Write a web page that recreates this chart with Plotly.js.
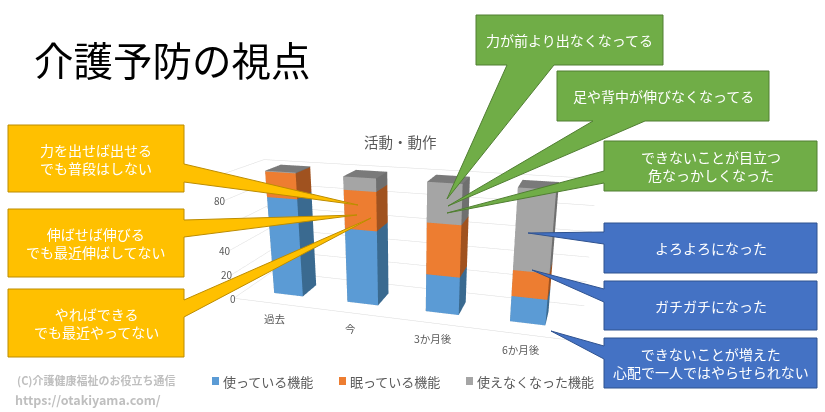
<!DOCTYPE html>
<html>
<head>
<meta charset="utf-8">
<script src="https://cdn.plot.ly/plotly-3.0.1.min.js"></script>
<style>
html,body{margin:0;padding:0;background:#fff;overflow:hidden}
#chart{width:825px;height:530px}
/* フキダシを棒の上に出すため */
.gl-container{z-index:1}
.main-svg{z-index:2}
</style>
</head>
<body>
<div id="chart"></div>
<script>
// === データ ===
const periods = ["過去", "今", "3か月後", "6か月後"];
const seriesNames = ["使っている機能", "眠っている機能", "使えなくなった機能"];
const used = [80, 60, 30, 20];
const dormant = [20, 30, 40, 20];
const lost = [0, 10, 30, 60];
const valueTicks = [0, 20, 40, 80];

// 画面は825x412だが、3Dを大きく出すため縦長に描いて下を切る
const W = 825, H = 530;
const FONT = '"Noto Sans CJK JP", "Noto Sans", sans-serif';

// 面の色: 正面, 側面, 上面
const faces = [
  {front: "#5B9BD5", side: "#3A6A90", top: "#5B9BD5"},
  {front: "#ED7D31", side: "#A0521F", top: "#ED7D31"},
  {front: "#A5A5A5", side: "#6F6F6F", top: "#7A7A7A"}
];

// 棒1本ぶんの箱を頂点と三角形にする
function addBox(m, xc, z0, z1, c) {
  const hw = 0.2, hd = 0.2, n = m.x.length;
  [[-1,-1,z0],[1,-1,z0],[1,1,z0],[-1,1,z0],[-1,-1,z1],[1,-1,z1],[1,1,z1],[-1,1,z1]].forEach(p => {
    m.x.push(xc + p[0]*hw); m.y.push(p[1]*hd); m.z.push(p[2]);
  });
  const tris = [
    [0,1,5,c.front],[0,5,4,c.front],
    [1,2,6,c.side],[1,6,5,c.side],
    [4,5,6,c.top],[4,6,7,c.top],
    [3,0,4,c.side],[3,4,7,c.side],
    [2,3,7,c.side],[2,7,6,c.side],
    [0,1,2,c.side],[0,2,3,c.side]
  ];
  tris.forEach(t => {
    m.i.push(n+t[0]); m.j.push(n+t[1]); m.k.push(n+t[2]); m.facecolor.push(t[3]);
  });
}

const traces = [used, dormant, lost].map((vals, s) => {
  const m = {type:"mesh3d", name:seriesNames[s], x:[], y:[], z:[], i:[], j:[], k:[], facecolor:[],
    flatshading:true, showscale:false, hoverinfo:"skip",
    lighting:{ambient:1, diffuse:0, specular:0, roughness:1, fresnel:0}};
  vals.forEach((v, p) => {
    const base = s === 0 ? 0 : s === 1 ? used[p] : used[p] + dormant[p];
    addBox(m, p, base, base + Math.max(v, 0.6), faces[s]);
  });
  return m;
});

// === フキダシ ===
const callouts = [
  {text:"力を出せば出せる<br>でも普段はしない", fill:"#FFC000", line:"#BC8C00", r:[8,125,184,192], w:[[184,164],[358,205],[184,182]]},
  {text:"伸ばせば伸びる<br>でも最近伸ばしてない", fill:"#FFC000", line:"#BC8C00", r:[8,209,184,277], w:[[184,220],[357,215],[184,237]]},
  {text:"やればできる<br>でも最近やってない", fill:"#FFC000", line:"#BC8C00", r:[8,289,184,357], w:[[184,300],[371,218],[184,317]]},
  {text:"力が前より出なくなってる", fill:"#70AD47", line:"#507E32", r:[476,15,663,65], w:[[507,65],[447,199],[554,65]]},
  {text:"足や背中が伸びなくなってる", fill:"#70AD47", line:"#507E32", r:[557,71,769,121], w:[[593,121],[448,206],[645,121]]},
  {text:"できないことが目立つ<br>危なっかしくなった", fill:"#70AD47", line:"#507E32", r:[604,141,817,191], w:[[604,171],[447,213],[604,183]]},
  {text:"よろよろになった", fill:"#4472C4", line:"#2F528F", r:[604,223,817,273], w:[[604,232],[528,233],[604,244]]},
  {text:"ガチガチになった", fill:"#4472C4", line:"#2F528F", r:[604,281,817,330], w:[[604,289],[532,270],[604,302]]},
  {text:"できないことが増えた<br>心配で一人ではやらせられない", fill:"#4472C4", line:"#2F528F", r:[604,338,817,388], w:[[604,346],[551,331],[604,359]]}
];

const px = x => x / W;
const py = y => 1 - y / H;

// 四角とくちばしを一つの輪郭にする
function outline(c) {
  const [l, t, r, b] = c.r, w = c.w;
  let pts;
  if (w[0][1] === b) pts = [[l,t],[r,t],[r,b],w[2],w[1],w[0],[l,b]];
  else if (w[0][0] === r) pts = [[l,t],[r,t],w[0],w[1],w[2],[r,b],[l,b]];
  else pts = [[l,t],[r,t],[r,b],[l,b],w[2],w[1],w[0]];
  return "M" + pts.map(p => `${px(p[0])},${py(p[1])}`).join("L") + "Z";
}

const shapes = [];
const annotations = [];
callouts.forEach(c => {
  shapes.push({type:"path", xref:"paper", yref:"paper", layer:"above", fillcolor:c.fill, line:{color:c.line, width:1}, path:outline(c)});
  annotations.push({text:c.text, xref:"paper", yref:"paper", showarrow:false, align:"center",
    x:px((c.r[0]+c.r[2])/2), y:py((c.r[1]+c.r[3])/2), xanchor:"center", yanchor:"middle",
    font:{family:FONT, size:14, color:"#fff"}});
});

function label(text, x, y, size, color, anchor, weight) {
  annotations.push({text:text, xref:"paper", yref:"paper", showarrow:false, x:px(x), y:py(y),
    xanchor:anchor || "left", yanchor:"middle", font:{family:FONT, size:size, color:color, weight:weight || 400}});
}
label("介護予防の視点", 32, 59, 39.5, "#000");
label("活動・動作", 400, 141, 14.5, "#595959", "center");
label("(C)介護健康福祉のお役立ち通信", 15, 380, 11, "#BFBFBF", "left", 700);
label("https://otakiyama.com/", 13, 399, 12.5, "#BFBFBF", "left", 700);

// 凡例
const legendX = [212, 339, 466];
seriesNames.forEach((n, i) => {
  shapes.push({type:"rect", xref:"paper", yref:"paper", fillcolor:faces[i].front, line:{width:0},
    x0:px(legendX[i]), y0:py(377), x1:px(legendX[i]+7), y1:py(385)});
  label(n, legendX[i]+9, 381, 13, "#595959");
});

// 目盛りと分類ラベルはシーンの座標に付ける(範囲の外だと消えるのでshiftでずらす)
const sceneAnn = [];
valueTicks.forEach(v => sceneAnn.push({x:-0.6, y:-0.5, z:v, text:String(v), showarrow:false, xanchor:"right", xshift:4,
  font:{family:FONT, size:10, color:"#595959"}}));
periods.forEach((p, i) => sceneAnn.push({x:i, y:-0.5, z:0, text:p, showarrow:false, xshift:-3, yshift:-15,
  font:{family:FONT, size:10.5, color:"#595959"}}));

const layout = {
  width:W, height:H, margin:{l:0, r:0, t:0, b:0}, showlegend:false,
  paper_bgcolor:"rgba(0,0,0,0)", plot_bgcolor:"rgba(0,0,0,0)",
  shapes:shapes, annotations:annotations,
  scene:{
    domain:{x:[0,0.985], y:[0,1]},
    bgcolor:"rgba(0,0,0,0)",
    aspectmode:"manual", aspectratio:{x:1.87, y:0.45, z:0.73},
    camera:{eye:{x:0.93, y:-3.1, z:1.0}, center:{x:0, y:0, z:-0.15}, up:{x:0, y:0, z:1}},
    annotations:sceneAnn,
    xaxis:{range:[-0.6,3.6], showgrid:false, showticklabels:false, zeroline:false, showline:true, linecolor:"#D9D9D9", title:{text:""}, showspikes:false, ticks:""},
    yaxis:{range:[-0.5,0.5], showgrid:false, showticklabels:false, zeroline:false, showline:false, title:{text:""}, showspikes:false, ticks:""},
    zaxis:{range:[0,105], tickvals:[0,20,40,60,80,100], showgrid:true, gridcolor:"#DCDCDC", showticklabels:false, zeroline:false, title:{text:""}, showspikes:false, ticks:""}
  }
};

Plotly.newPlot("chart", traces, layout, {displayModeBar:false});
</script>
</body>
</html>
